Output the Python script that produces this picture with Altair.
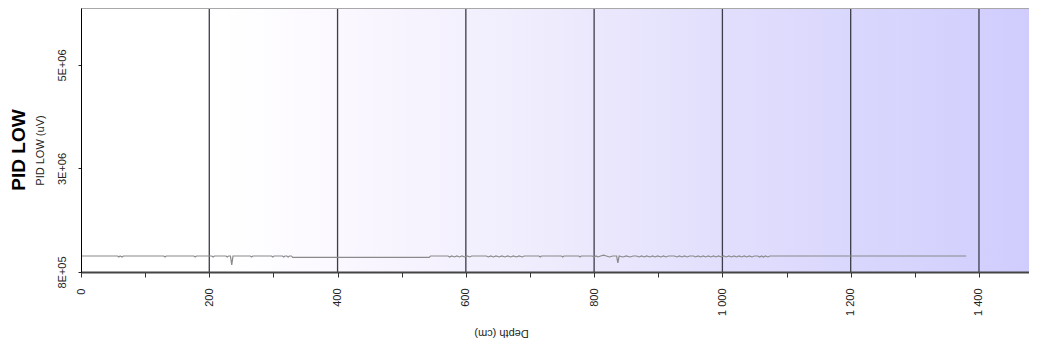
import altair as alt
import pandas as pd

# ---------------- data ----------------
depth_cm = [
    0, 57, 59, 61, 64, 66, 129, 131, 133, 176, 178, 180, 204, 206, 208,
    226, 228, 230, 233, 235, 237, 264, 266, 268, 297, 299, 301, 314, 316, 318,
    321, 323, 325, 328, 330, 543, 545, 572, 575, 578, 582, 586, 590, 594, 598,
    602, 606, 609, 632, 635, 639, 643, 647, 652, 656, 661, 665, 670, 674, 679,
    683, 688, 691, 714, 716, 718, 749, 751, 753, 776, 778, 780, 797, 800, 803,
    806, 810, 815, 819, 824, 829, 835, 837, 839, 845, 850, 856, 861, 866, 870,
    874, 878, 882, 887, 891, 895, 899, 904, 908, 912, 916, 925, 929, 933, 937,
    941, 945, 949, 955, 958, 962, 966, 970, 974, 978, 982, 986, 990, 994, 998,
    1002, 1006, 1010, 1014, 1018, 1022, 1026, 1030, 1034, 1038, 1042, 1046, 1050,
    1055, 1058, 1061, 1064, 1067, 1071, 1074, 1380,
]
pid_low_uv = [
    1125000, 1125000, 1105000, 1125000, 1105000, 1125000, 1125000, 1105000, 1125000,
    1125000, 1105000, 1125000, 1125000, 1105000, 1125000,
    1125000, 1105000, 1125000, 1125000, 945000, 1125000, 1125000, 1105000, 1125000,
    1125000, 1105000, 1125000, 1125000, 1105000, 1125000,
    1125000, 1105000, 1125000, 1125000, 1095000, 1095000, 1125000, 1125000, 1105000,
    1125000, 1105000, 1125000, 1105000, 1125000, 1105000,
    1125000, 1105000, 1125000, 1125000, 1105000, 1125000, 1105000, 1125000, 1105000,
    1125000, 1105000, 1125000, 1105000, 1125000, 1105000,
    1125000, 1105000, 1125000, 1125000, 1105000, 1125000, 1125000, 1105000, 1125000,
    1125000, 1105000, 1125000, 1125000, 1105000, 1125000,
    1105000, 1125000, 1140000, 1125000, 1105000, 1125000, 1125000, 985000, 1125000,
    1105000, 1125000, 1105000, 1125000, 1125000, 1105000,
    1125000, 1105000, 1125000, 1105000, 1125000, 1105000, 1125000, 1105000, 1125000,
    1105000, 1125000, 1125000, 1105000, 1125000, 1105000,
    1125000, 1105000, 1125000, 1125000, 1105000, 1125000, 1105000, 1125000, 1105000,
    1125000, 1105000, 1125000, 1105000, 1125000, 1105000,
    1125000, 1105000, 1125000, 1105000, 1125000, 1105000, 1125000, 1105000, 1125000,
    1105000, 1125000, 1105000, 1125000,
    1125000, 1105000, 1125000, 1105000, 1125000, 1105000, 1125000, 1125000,
]
grid_depths = [200, 400, 600, 800, 1000, 1200, 1400]
xtick_values = [0, 100, 200, 300, 400, 500, 600, 700, 800, 900, 1000, 1100, 1200, 1300, 1400]
ytick_values = [800000, 2900000, 5000000]
ytick_labels = ["8E+05", "3E+06", "5E+06"]

# ---------------- layout ----------------
W, H = 948, 264
X_DOMAIN = [0, 1478]
Y_DOMAIN = [800000, 6155000]
FONT = "Liberation Sans"

line_df = pd.DataFrame({"depth": depth_cm, "value": pid_low_uv})
grid_df = pd.DataFrame({"depth": grid_depths})
one_df = pd.DataFrame({"k": [0]})

xscale = alt.Scale(domain=X_DOMAIN, nice=False, zero=False)
yscale = alt.Scale(domain=Y_DOMAIN, nice=False, zero=False)

ylabel_expr = " : ".join(
    f"datum.value == {v} ? '{t}'" for v, t in zip(ytick_values[:-1], ytick_labels[:-1])
) + f" : '{ytick_labels[-1]}'"

x_axis = alt.Axis(
    values=xtick_values,
    labelExpr="datum.value % 200 == 0 ? replace(format(datum.value, ','), ',', ' ') : ''",
    labelAngle=270,
    labelAlign="right",
    labelBaseline="middle",
    labelPadding=11,
    labelFontSize=11,
    labelFont=FONT,
    labelColor="#222222",
    labelFlush=False,
    labelOverlap=False,
    tickSize=5,
    tickColor="#333333",
    domainColor="#444444",
    domainWidth=2,
    grid=False,
    title="Depth (cm)",
    titleAngle=180,
    titleX=420,
    titleY=60,
    titleAlign="center",
    titleBaseline="middle",
    titleFont=FONT,
    titleFontSize=11,
    titleFontWeight="normal",
    titleColor="#222222",
    zindex=1,
)

y_axis = alt.Axis(
    values=ytick_values,
    labelExpr=ylabel_expr,
    labelAngle=270,
    labelAlign="center",
    labelBaseline="bottom",
    labelPadding=11,
    labelFontSize=11,
    labelFont=FONT,
    labelColor="#222222",
    labelFlush=False,
    tickSize=3,
    tickColor="#222222",
    domainColor="#000000",
    domainWidth=1,
    grid=False,
    title="PID LOW (uV)",
    titleAngle=270,
    titleX=-41,
    titleY=142,
    titleAlign="center",
    titleBaseline="middle",
    titleFont=FONT,
    titleFontSize=11,
    titleFontWeight="normal",
    titleColor="#222222",
    zindex=1,
)

background = alt.Chart(one_df).mark_rect(
    color=alt.Gradient(
        gradient="linear",
        x1=0, x2=1, y1=0, y2=0,
        stops=[
            alt.GradientStop(color="#ffffff", offset=0),
            alt.GradientStop(color="#ffffff", offset=0.15),
            alt.GradientStop(color="#faf6ff", offset=0.3),
            alt.GradientStop(color="#eeebfd", offset=0.5),
            alt.GradientStop(color="#e0ddfd", offset=0.7),
            alt.GradientStop(color="#d0cdfe", offset=1),
        ],
    )
).encode(x=alt.value(0), x2=alt.value(W), y=alt.value(0), y2=alt.value(H))

grid = alt.Chart(grid_df).mark_rule(color="#3c3c4a", strokeWidth=1.3).encode(
    x=alt.X("depth:Q", scale=xscale, axis=x_axis)
)

top_line = alt.Chart(one_df).mark_rule(color="#a8a8a8", strokeWidth=2).encode(
    x=alt.value(0), x2=alt.value(W), y=alt.value(0)
)

line = alt.Chart(line_df).mark_line(color="#8a8a8a", strokeWidth=1.2).encode(
    x=alt.X("depth:Q", scale=xscale, axis=x_axis),
    y=alt.Y("value:Q", scale=yscale, axis=y_axis),
)

chart = (
    alt.layer(background, grid, top_line, line)
    .properties(
        width=W,
        height=H,
        title=alt.TitleParams(
            "PID LOW",
            orient="left",
            anchor="middle",
            fontSize=19,
            fontWeight="bold",
            font=FONT,
            color="#000000",
            offset=5,
            dx=-10,
        ),
        autosize=alt.AutoSizeParams(type="none"),
        padding={"left": 73, "top": 0, "right": 0, "bottom": 75},
    )
    .configure_view(stroke=None)
    .configure(background="white")
)

chart.save("out.html", embed_options={"renderer": "svg", "actions": False})
